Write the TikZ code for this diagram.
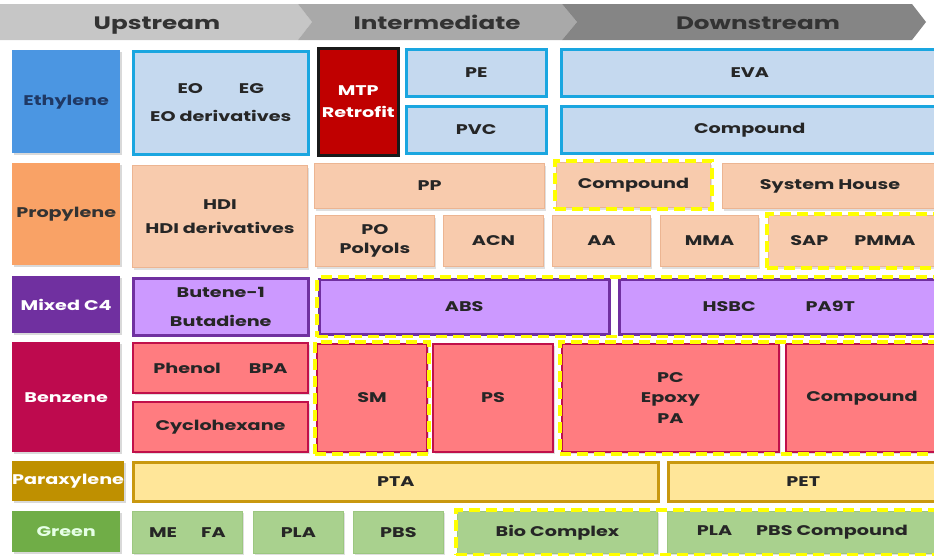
\documentclass[tikz,border=0pt]{standalone}
\usepackage{fontspec}
\setmainfont{Poppins}[FakeStretch=1.37]
\usepackage{tikz}
\usetikzlibrary{positioning,fit,shadows}

\definecolor{headlight}{HTML}{C6C6C6}
\definecolor{headmid}{HTML}{A9A9A9}
\definecolor{headdark}{HTML}{858585}
\definecolor{ethdark}{HTML}{4B96E2}
\definecolor{ethtext}{HTML}{1F3864}
\definecolor{ethfill}{HTML}{C5D9EF}
\definecolor{ethline}{HTML}{1AA6E0}
\definecolor{mtpred}{HTML}{C00000}
\definecolor{prodark}{HTML}{F9A266}
\definecolor{profill}{HTML}{F8CBAD}
\definecolor{proline}{HTML}{ECB592}
\definecolor{c4dark}{HTML}{7030A0}
\definecolor{c4fill}{HTML}{CC99FF}
\definecolor{bendark}{HTML}{BE0A4E}
\definecolor{benfill}{HTML}{FF7C80}
\definecolor{benline}{HTML}{C0104A}
\definecolor{pxdark}{HTML}{BF9000}
\definecolor{pxfill}{HTML}{FFE699}
\definecolor{pxline}{HTML}{C9980F}
\definecolor{grndark}{HTML}{70AD47}
\definecolor{grnfill}{HTML}{A9D18E}
\definecolor{grnline}{HTML}{9CC780}
\definecolor{markyellow}{HTML}{FFFF00}

\begin{document}
\begin{tikzpicture}[x=1pt, y=-1pt,
    every node/.style={anchor=north west, inner sep=0pt, align=center,
        font=\fontsize{14}{16.5}\selectfont\bfseries, text=black!85},
    head/.style={anchor=base, font=\fontsize{18}{20}\selectfont\bfseries, text=black!80},
    feed/.style={fill=#1, minimum width=108,
        drop shadow={shadow xshift=1.5pt, shadow yshift=-2pt, opacity=.3}},
    cell/.style={draw, line width=2.5pt,
        drop shadow={shadow xshift=1.5pt, shadow yshift=-2pt, opacity=.25}},
    ethbox/.style={cell, fill=ethfill, draw=ethline},
    probox/.style={cell, fill=profill, draw=proline, line width=1pt},
    c4box/.style={cell, fill=c4fill, draw=c4dark},
    benbox/.style={cell, fill=benfill, draw=benline, line width=2pt},
    pxbox/.style={cell, fill=pxfill, draw=pxline},
    grnbox/.style={cell, fill=grnfill, draw=grnline, line width=.8pt},
    hilite/.style={draw=markyellow, line width=3.5pt, dash pattern=on 11pt off 6pt,
        inner sep=1pt, anchor=center}]

    \useasboundingbox (0,0) rectangle (934,555);
    \clip (0,0) rectangle (934,555);

    % chevrons
    \fill[headlight] (0,4) -- (298,4) -- (312,22) -- (298,40) -- (0,40) -- cycle;
    \fill[headmid] (298,4) -- (562,4) -- (577,22) -- (562,40) -- (298,40) -- (312,22) -- cycle;
    \fill[headdark] (562,4) -- (912,4) -- (926,22) -- (912,40) -- (562,40) -- (577,22) -- cycle;
    \node[head] (upstream) at (157,29) {Upstream};
    \node[head] (intermediate) at (437,29) {Intermediate};
    \node[head] (downstream) at (758,29) {Downstream};

    % ethylene
    \node[feed=ethdark, minimum height=103, text=ethtext] (ethylene) at (12,50) {Ethylene};
    \node[ethbox, minimum width=175, minimum height=103] (eo) at (132,50) {EO\hspace{36pt}EG\\[12pt]EO derivatives};
    \node[cell, fill=mtpred, draw=black!90, text=white, minimum width=80, minimum height=107] (mtp) at (317,47) {MTP\\[5pt]Retrofit};
    \node[ethbox, minimum width=140, minimum height=47] (pe) at (405,48) {PE};
    \node[ethbox, minimum width=140, minimum height=47] (pvc) at (405,105) {PVC};
    \node[ethbox, minimum width=377, minimum height=47] (eva) at (560,48) {EVA};
    \node[ethbox, minimum width=377, minimum height=47] (ethcomp) at (560,105) {Compound};

    % propylene
    \node[feed=prodark, minimum height=102, text=black!80] (propylene) at (12,163) {Propylene};
    \node[probox, minimum width=175, minimum height=102] (hdi) at (132,165) {HDI\\[7pt]HDI derivatives};
    \node[probox, minimum width=230, minimum height=45] (pp) at (314,163) {PP};
    \node[probox, minimum width=154, minimum height=45] (procomp) at (556,162) {Compound};
    \node[probox, minimum width=215, minimum height=45] (syshouse) at (722,163) {System House};
    \node[probox, minimum width=119, minimum height=51] (po) at (315,215) {PO\\[2pt]Polyols};
    \node[probox, minimum width=100, minimum height=51] (acn) at (443,215) {ACN};
    \node[probox, minimum width=98, minimum height=51] (aa) at (552,215) {AA};
    \node[probox, minimum width=98, minimum height=51] (mma) at (660,215) {MMA};
    \node[probox, minimum width=169, minimum height=51] (sap) at (768,215) {SAP\hspace{26pt}PMMA};

    % mixed C4
    \node[feed=c4dark, minimum height=57, text=white] (mixedc) at (12,276) {Mixed C4};
    \node[c4box, minimum width=175, minimum height=57] (butene) at (132,277) {Butene-1\\[12pt]Butadiene};
    \node[c4box, minimum width=290, minimum height=55] (abs) at (318,278) {ABS};
    \node[c4box, minimum width=319, minimum height=55] (hsbc) at (618,278) {HSBC\hspace{50pt}PA9T};

    % benzene
    \node[feed=bendark, minimum height=110, text=white] (benzene) at (12,342) {Benzene};
    \node[benbox, minimum width=175, minimum height=50] (phenol) at (132,342) {Phenol\hspace{28pt}BPA};
    \node[benbox, minimum width=175, minimum height=50] (cyclo) at (132,401) {Cyclohexane};
    \node[benbox, minimum width=110, minimum height=108] (sm) at (316,343) {SM};
    \node[benbox, minimum width=120, minimum height=108] (ps) at (432,343) {PS};
    \node[benbox, minimum width=217, minimum height=108] (pc) at (561,343) {PC\\[4pt]Epoxy\\[4pt]PA};
    \node[benbox, minimum width=152, minimum height=108] (bencomp) at (785,343) {Compound};

    % paraxylene
    \node[feed=pxdark, minimum height=40, text=white] (paraxylene) at (12,461) {Paraxylene};
    \node[pxbox, minimum width=525, minimum height=39] (pta) at (132,461) {PTA};
    \node[pxbox, minimum width=270, minimum height=39] (pet) at (667,461) {PET};

    % green
    \node[feed=grndark, minimum height=41, text=green!10] (green) at (12,511) {Green};
    \node[grnbox, minimum width=110, minimum height=42] (mefa) at (132,511) {ME\hspace{24pt}FA};
    \node[grnbox, minimum width=90, minimum height=42] (pla) at (253,511) {PLA};
    \node[grnbox, minimum width=90, minimum height=42] (pbs) at (353,511) {PBS};
    \node[grnbox, minimum width=200, minimum height=42] (bio) at (457,511) {Bio Complex};
    \node[grnbox, minimum width=270, minimum height=42] (plapbs) at (667,511) {PLA\hspace{24pt}PBS Compound};

    % marked groups
    \node[hilite, fit=(procomp)] (procompmark) {};
    \node[hilite, fit=(sap)] (sapmark) {};
    \node[hilite, fit=(abs) (hsbc)] (c4mark) {};
    \node[hilite, fit=(sm)] (smmark) {};
    \node[hilite, fit=(pc) (bencomp)] (benmark) {};
    \node[hilite, fit=(bio) (plapbs)] (greenmark) {};
\end{tikzpicture}
\end{document}
